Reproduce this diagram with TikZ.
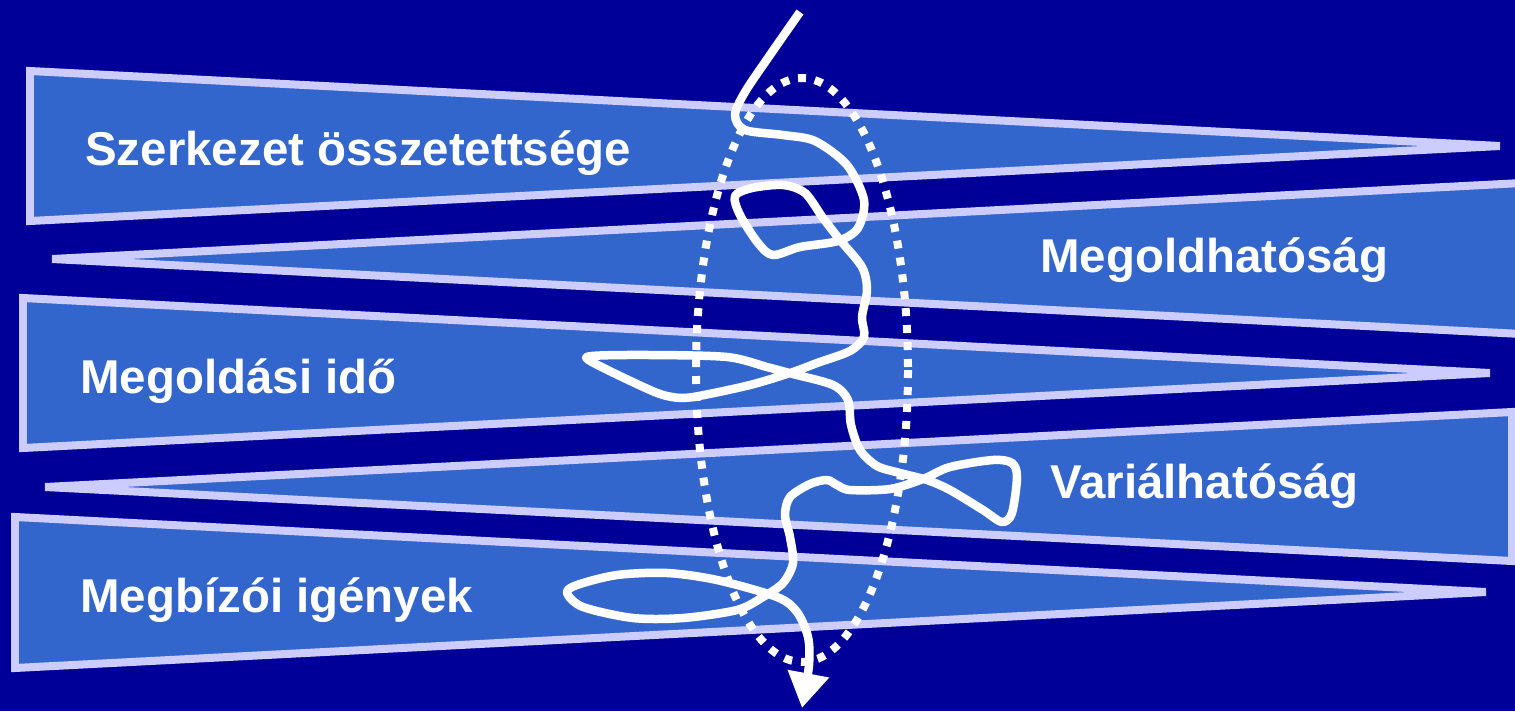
\documentclass[tikz,border=0pt]{standalone}
\usepackage{fontspec}
\setmainfont{Liberation Sans}
\usetikzlibrary{arrows.meta}
\definecolor{bg}{HTML}{000099}
\definecolor{wfill}{HTML}{3366CC}
\definecolor{wedge}{HTML}{CCCCFF}
\begin{document}
\begin{tikzpicture}[x=0.02cm,y=-0.02cm,
  wedgeshape/.style={fill=wfill, draw=wedge, line width=0.16cm, line join=miter},
  lbl/.style={text=white, font=\bfseries\fontsize{27}{32}\selectfont, inner sep=0pt, anchor=base west},
  dotring/.style={draw=white, line width=0.16cm, dash pattern=on 0.16cm off 0.18cm},
  squiggle/.style={draw=white, line width=0.17cm, line join=round}]
\fill[bg] (0,0) rectangle (1515,711);
\useasboundingbox (0,0) rectangle (1515,711);
% wedges
\draw[wedgeshape] (30,71) -- (1500,146) -- (30,221) -- cycle;
\draw[wedgeshape] (1522,183) -- (52,259) -- (1522,334) -- cycle;
\draw[wedgeshape] (23,298) -- (1490,373) -- (23,448) -- cycle;
\draw[wedgeshape] (1512,412) -- (45,487) -- (1512,561) -- cycle;
\draw[wedgeshape] (15,517) -- (1486,592) -- (15,668) -- cycle;
% labels
\node[lbl] (t1) at (85,165) {Szerkezet összetettsége};
\node[lbl] (t2) at (1040,272) {Megoldhatóság};
\node[lbl] (t3) at (80,393) {Megoldási idő};
\node[lbl] (t4) at (1050,498) {Variálhatóság};
\node[lbl] (t5) at (80,612) {Megbízói igények};
% dotted ring
\draw[dotring] (802,370) ellipse [x radius=106, y radius=292];
% squiggle path
\draw[squiggle, -{Triangle[width=0.8cm,length=0.7cm]}] plot[smooth, tension=0.5] coordinates {
(800,12) (770,55) (745,92) (735,115) (745,130) (783,135) (815,141) (847,165) (864,200) (858,228) (838,241) (800,247) (773,255) (758,243) (740,215) (735,196) (752,188) (783,185) (805,193) (823,218) (840,240) (862,267) (867,290) (862,317) (864,337) (850,351) (817,363) (793,372) (750,385) (693,397) (672,397) (650,390) (592,362) (592,356) (650,355) (727,357) (767,367) (793,374) (833,385) (848,400) (851,425) (860,450) (877,466) (900,473) (927,480) (950,490) (983,510) (1002,522) (1012,513) (1017,477) (1012,463) (993,460) (950,467) (923,479) (890,489) (850,490) (837,485) (827,480) (810,484) (790,497) (785,515) (790,537) (793,563) (783,583) (763,597) (737,610) (683,618) (633,618) (583,607) (567,593) (577,585) (617,575) (667,573) (717,580) (777,597) (797,612) (808,637) (809,665) (802,708)};
\end{tikzpicture}
\end{document}
